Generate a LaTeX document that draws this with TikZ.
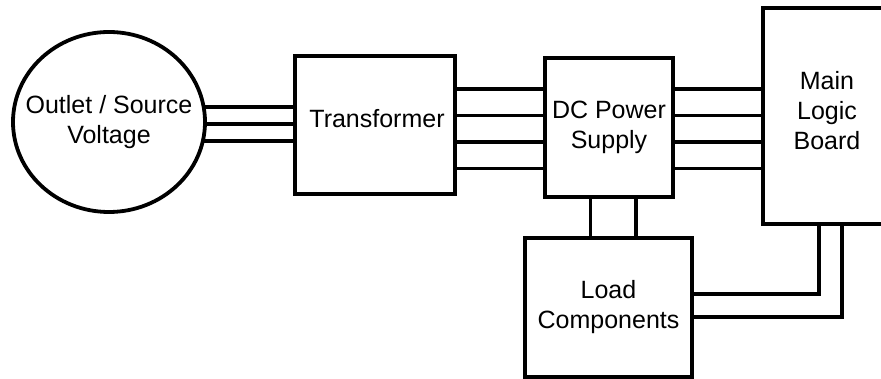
\documentclass[tikz,border=0pt]{standalone}
\usepackage{fontspec}
\setmainfont{Liberation Sans}
\usetikzlibrary{shapes.geometric,backgrounds}
\begin{document}
\begin{tikzpicture}[x=1pt,y=-1pt,
  blk/.style={draw,line width=3.8pt,fill=white,inner sep=0pt},
  txt/.style={inner sep=0pt,font=\fontsize{25}{30}\selectfont,align=center},
  wire/.style={line width=3.8pt}]
\useasboundingbox (0,0) rectangle (881,379);
\clip (0,0) rectangle (881,379);
% blocks
\node[blk,ellipse,minimum width=192pt,minimum height=180pt] (src) at (109,122) {};
\node[txt] (srctext) at (src.center) {Outlet / Source\\Voltage};
\node[blk,minimum width=160pt,minimum height=138pt] (trans) at (375,125) {};
\node[txt,anchor=base] (transtext) at (377,128) {Transformer};
\node[blk,minimum width=128pt,minimum height=139pt] (dc) at (609,127.5) {};
\node[txt] (dctext) at (dc.center) {DC Power\\Supply};
\node[blk,minimum width=128pt,minimum height=216pt] (main) at (827,116) {};
\node[txt] (maintext) at (827,111) {Main\\Logic\\Board};
\node[blk,minimum width=167pt,minimum height=139pt] (load) at (608.5,307.5) {};
\node[txt] (loadtext) at (load.center) {Load\\Components};
% connector levels
\coordinate (a1) at (0,107);
\coordinate (a2) at (0,124);
\coordinate (a3) at (0,141);
\coordinate (b1) at (0,89);
\coordinate (b2) at (0,115.5);
\coordinate (b3) at (0,142);
\coordinate (b4) at (0,168.5);
\coordinate (c1) at (590.5,0);
\coordinate (c2) at (636,0);
\coordinate (d1) at (819,294);
\coordinate (d2) at (842,317);
\begin{scope}[on background layer]
\fill[white] (0,0) rectangle (881,379);
\foreach \k in {a1,a2,a3} \draw[wire] (src.center |- \k) -- (trans.center |- \k);
\foreach \k in {b1,b2,b3,b4} \draw[wire] (trans.center |- \k) -- (dc.center |- \k);
\foreach \k in {b1,b2,b3,b4} \draw[wire] (dc.center |- \k) -- (main.center |- \k);
\foreach \k in {c1,c2} \draw[wire] (dc.center -| \k) -- (load.center -| \k);
\draw[wire] (load.center |- d1) -| (main.center -| d1);
\draw[wire] (load.center |- d2) -| (main.center -| d2);
\end{scope}
\end{tikzpicture}
\end{document}
